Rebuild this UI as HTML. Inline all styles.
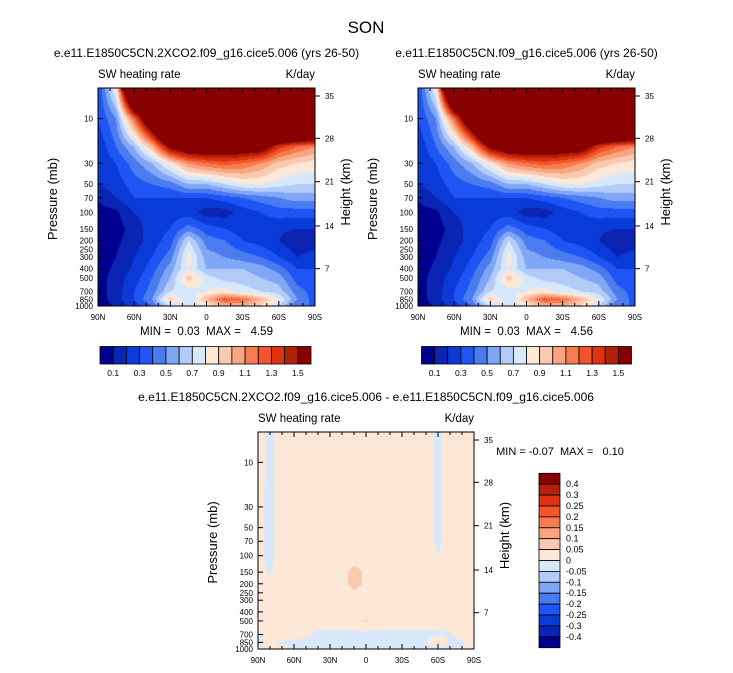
<!DOCTYPE html>
<html><head><meta charset="utf-8">
<style>
body{margin:0;background:#fff;}
#wrap{position:relative;width:733px;height:673px;overflow:hidden;font-family:"Liberation Sans",sans-serif;}
svg{position:absolute;left:0;top:0;}
svg text{white-space:pre;}
canvas{position:absolute;}
</style></head>
<body>
<div id="wrap">
<canvas id="c1" width="217" height="218" style="left:98px;top:88px"></canvas>
<canvas id="c2" width="217" height="218" style="left:418px;top:88px"></canvas>
<canvas id="c3" width="216" height="217" style="left:258px;top:432px"></canvas>
<svg id="s" width="733" height="673"></svg>
</div>
<script>
const levels = [0.1,0.2,0.3,0.4,0.5,0.6,0.7,0.8,0.9,1.0,1.1,1.2,1.3,1.4,1.5];
const levelLabels = ["0.1","0.3","0.5","0.7","0.9","1.1","1.3","1.5"];
const colors = ["#000090","#0a24b4","#0a3ad8","#1f55f5","#4a7cf0","#80a6f6","#b2cbf9","#d7e8fb","#fde8d8","#fbc8b0","#f9a680","#f67c50","#f2542c","#de3210","#b42008","#880000"];
const diffLevels = [-0.4,-0.3,-0.25,-0.2,-0.15,-0.1,-0.05,0,0.05,0.1,0.15,0.2,0.25,0.3,0.4];
const diffLabels = ["-0.4","-0.3","-0.25","-0.2","-0.15","-0.1","-0.05","0","0.05","0.1","0.15","0.2","0.25","0.3","0.4"];
const pressures = [4,10,20,30,50,70,100,150,200,300,400,500,700,850,1000];
const lats = [90,75,60,45,30,15,0,-15,-30,-45,-60,-75,-90];
const heat = [
[0.3,0.9,3,3,3,3,3,3,3,3,3,3,3],
[0.3,0.5,1.2,2,3,3,3,3,3,3,3,3,3],
[0.22,0.4,0.6,1.0,1.6,1.8,1.8,1.75,1.75,1.7,1.35,1.2,1.1],
[0.2,0.3,0.45,0.6,0.85,1.1,1.2,1.25,1.2,1.1,0.95,0.9,0.85],
[0.2,0.25,0.35,0.4,0.45,0.6,0.6,0.7,0.8,0.8,0.75,0.7,0.7],
[0.12,0.2,0.3,0.3,0.3,0.3,0.3,0.35,0.4,0.45,0.5,0.55,0.55],
[0.05,0.08,0.2,0.25,0.25,0.25,0.15,0.15,0.25,0.3,0.35,0.35,0.35],
[0.05,0.05,0.15,0.25,0.3,0.45,0.35,0.3,0.25,0.25,0.22,0.2,0.2],
[0.05,0.08,0.15,0.25,0.35,0.7,0.45,0.4,0.3,0.25,0.2,0.12,0.15],
[0.05,0.1,0.2,0.3,0.45,0.85,0.55,0.5,0.45,0.4,0.3,0.2,0.25],
[0.05,0.12,0.22,0.35,0.55,0.8,0.6,0.6,0.6,0.55,0.45,0.3,0.3],
[0.05,0.15,0.25,0.4,0.6,0.95,0.75,0.65,0.65,0.6,0.55,0.35,0.3],
[0.05,0.15,0.3,0.45,0.7,0.75,0.8,0.85,0.75,0.7,0.65,0.45,0.35],
[0.05,0.15,0.3,0.5,0.95,0.7,1.0,1.25,1.2,1.0,0.8,0.5,0.35],
[0.05,0.12,0.25,0.4,0.7,0.7,0.8,1.0,1.0,0.9,0.7,0.4,0.4]
];
const diffLats = [90,80,70,60,50,40,30,20,10,0,-10,-20,-30,-40,-50,-60,-70,-80,-90];
const diff = [
[0.02,-0.01,0.02,0.02,0.02,0.02,0.02,0.02,0.02,0.02,0.02,0.02,0.02,0.02,0.02,-0.01,0.02,0.02,0.02],
[0.02,-0.01,0.02,0.02,0.02,0.02,0.02,0.02,0.02,0.02,0.02,0.02,0.02,0.02,0.02,-0.01,0.02,0.02,0.02],
[0.01,-0.01,0.02,0.02,0.02,0.02,0.02,0.02,0.02,0.02,0.02,0.02,0.02,0.02,0.02,-0.01,0.02,0.02,0.01],
[0.01,-0.01,0.02,0.02,0.02,0.02,0.02,0.02,0.02,0.02,0.02,0.02,0.02,0.02,0.02,-0.01,0.02,0.02,0.02],
[0.01,-0.01,0.02,0.02,0.02,0.02,0.02,0.02,0.02,0.02,0.02,0.02,0.02,0.02,0.02,-0.01,0.02,0.02,0.02],
[0.01,-0.01,0.02,0.02,0.02,0.02,0.02,0.02,0.02,0.02,0.02,0.02,0.02,0.02,0.02,-0.01,0.02,0.02,0.02],
[0.01,-0.01,0.02,0.02,0.02,0.02,0.02,0.02,0.02,0.02,0.02,0.02,0.02,0.02,0.02,0.0,0.02,0.02,0.02],
[0.01,-0.005,0.02,0.02,0.02,0.02,0.02,0.03,0.07,0.04,0.02,0.02,0.02,0.02,0.02,0.02,0.02,0.02,0.02],
[0.02,0.02,0.02,0.02,0.02,0.02,0.02,0.03,0.07,0.04,0.02,0.02,0.02,0.02,0.02,0.02,0.02,0.02,0.02],
[0.02,0.02,0.02,0.02,0.02,0.02,0.02,0.02,0.02,0.02,0.02,0.02,0.02,0.02,0.02,0.02,0.02,0.02,0.02],
[0.02,0.02,0.02,0.02,0.02,0.02,0.02,0.02,0.02,0.02,0.02,0.02,0.02,0.02,0.02,0.02,0.02,0.02,0.02],
[0.02,0.02,0.02,0.02,0.02,0.02,0.02,0.02,0.02,0.055,0.02,0.02,0.02,0.02,0.02,0.02,0.02,0.02,0.02],
[-0.01,0.02,0.02,0.02,0.01,-0.01,-0.01,-0.01,-0.01,-0.015,-0.01,-0.01,-0.01,-0.01,-0.01,-0.01,-0.005,0.02,0.02],
[-0.01,0.01,-0.01,-0.01,-0.01,-0.01,-0.01,-0.01,-0.01,-0.01,-0.01,-0.01,-0.01,-0.01,-0.01,0.06,-0.01,-0.01,0.02],
[0.02,0.02,0.02,-0.01,-0.01,-0.01,-0.01,-0.01,-0.01,-0.01,-0.01,-0.01,-0.04,-0.06,-0.01,-0.02,-0.01,0.01,0.02]
];
const pTicks = [10,30,50,70,100,150,200,250,300,400,500,700,850,1000];
const hTicks = [35,28,21,14,7];
const xTicks = ["90N","60N","30N","0","30S","60S","90S"];

function colorIdx(v, lv){let i=0;while(i<lv.length&&v>=lv[i])i++;return i;}
function sample(grid, latArr, lat, lp){
  const lps = pressures.map(p=>Math.log10(p));
  let r=0; while(r<lps.length-2 && lp>lps[r+1]) r++;
  let tr=(lp-lps[r])/(lps[r+1]-lps[r]); tr=Math.max(0,Math.min(1,tr));
  let c=0; while(c<latArr.length-2 && lat<latArr[c+1]) c++;
  let tc=(latArr[c]-lat)/(latArr[c]-latArr[c+1]); tc=Math.max(0,Math.min(1,tc));
  const a=grid[r][c],b=grid[r][c+1],d=grid[r+1][c],e=grid[r+1][c+1];
  return (a*(1-tc)+b*tc)*(1-tr)+(d*(1-tc)+e*tc)*tr;
}
function drawField(id, grid, latArr, lv, w, h, kpx){
  const cv=document.getElementById(id), ctx=cv.getContext('2d');
  const img=ctx.createImageData(w,h);
  const rgb=colors.map(c=>[parseInt(c.substr(1,2),16),parseInt(c.substr(3,2),16),parseInt(c.substr(5,2),16)]);
  for(let y=0;y<h;y++){
    const lp = 3 - (h-0.5-y)/kpx;
    for(let x=0;x<w;x++){
      const lat = 90 - (x+0.5)/w*180;
      const v = sample(grid, latArr, lat, lp);
      const col = rgb[colorIdx(v,lv)];
      const o=(y*w+x)*4; img.data[o]=col[0];img.data[o+1]=col[1];img.data[o+2]=col[2];img.data[o+3]=255;
    }
  }
  ctx.putImageData(img,0,0);
}
drawField('c1', heat, lats, levels, 217, 218, 93.7);
drawField('c2', heat, lats, levels, 217, 218, 93.7);
drawField('c3', diff, diffLats, diffLevels, 216, 217, 93.3);

const S=document.getElementById('s'), NS='http://www.w3.org/2000/svg';
function el(tag, attrs, txt){const e=document.createElementNS(NS,tag);for(const k in attrs)e.setAttribute(k,attrs[k]);if(txt!==undefined)e.textContent=txt;S.appendChild(e);return e;}

function panel(x0,y0,w,h,k,title,minmax,pfx){
  const yP=p=>y0+h-(3-Math.log10(p))*k;
  const hOff=[8,50.3,93.7,138,180.7];
  let e;
  e=el('rect',{x:x0,y:y0,width:w,height:h,fill:'none',stroke:'#000','stroke-width':1});
  
  e=el('text',{x:x0+w/2,y:y0-31,'font-size':12,'text-anchor':'middle'},title);
  
  e=el('text',{x:x0,y:y0-10,'font-size':11.5},'SW heating rate');
  
  e=el('text',{x:x0+w,y:y0-10,'font-size':11.5,'text-anchor':'end'},'K/day');
  
  pTicks.forEach(p=>{const y=yP(p);
    el('line',{x1:x0,x2:x0+5,y1:y,y2:y,stroke:'#000'});
    e=el('text',{x:x0-5,y:y+3,'font-size':8,'text-anchor':'end'},String(p));
    });
  hTicks.forEach((t,i)=>{const y=y0+hOff[i];
    el('line',{x1:x0+w,x2:x0+w+5,y1:y,y2:y,stroke:'#000'});
    e=el('text',{x:x0+w+10,y:y+3,'font-size':8},String(t));
    });
  for(let i=0;i<=18;i++){const x=x0+w*i/18;const L=i%3==0?5:3;
    el('line',{x1:x,x2:x,y1:y0+h,y2:y0+h-L,stroke:'#000'});
    el('line',{x1:x,x2:x,y1:y0,y2:y0+L,stroke:'#000'});}
  xTicks.forEach((t,i)=>{e=el('text',{x:x0+w*i/6,y:y0+h+14,'font-size':8,'text-anchor':'middle'},t);
    });
  e=el('text',{x:0,y:0,'font-size':13,'text-anchor':'middle',transform:`translate(${x0-41},${y0+h/2+2}) rotate(-90)`},'Pressure (mb)');
  
  e=el('text',{x:0,y:0,'font-size':13,'text-anchor':'middle',transform:`translate(${x0+w+35},${y0+h/2-5}) rotate(-90)`},'Height (km)');
  
  if(minmax){e=el('text',{x:x0+w/2,y:y0+h+29,'font-size':11.5,'text-anchor':'middle'},minmax);
    }
}
let t=el('text',{x:366,y:33,'font-size':17,'text-anchor':'middle'},'SON');

panel(98,88,217,218,93.7,'e.e11.E1850C5CN.2XCO2.f09_g16.cice5.006 (yrs 26-50)','MIN =  0.03  MAX =   4.59','left');
panel(418,88,217,218,93.7,'e.e11.E1850C5CN.f09_g16.cice5.006 (yrs 26-50)','MIN =  0.03  MAX =   4.56','right');
panel(258,432,216,217,93.3,'e.e11.E1850C5CN.2XCO2.f09_g16.cice5.006 - e.e11.E1850C5CN.f09_g16.cice5.006',null,'diff');
t=el('text',{x:560,y:455,'font-size':11,'text-anchor':'middle'},'MIN = -0.07  MAX =   0.10');


function hbar(x0,y0,w,h,pfx){
  const bw=w/colors.length;
  colors.forEach((c,i)=>{const r=el('rect',{x:x0+i*bw,y:y0,width:bw,height:h,fill:c,stroke:'#000','stroke-width':0.8});
    });
  levelLabels.forEach((l,i)=>{const e=el('text',{x:x0+bw*(1+2*i),y:y0+h+12,'font-size':8.5,'text-anchor':'middle'},l);
    });
}
hbar(100,346.5,211,17.5,'left');
hbar(421.5,346.5,210,17.5,'right');
(function(){
  const x0=539,y0=473.3,w=21,h=174.4,bh=h/colors.length;
  for(let i=0;i<colors.length;i++){
    const r=el('rect',{x:x0,y:y0+i*bh,width:w,height:bh,fill:colors[colors.length-1-i],stroke:'#000','stroke-width':0.8});
    }
  for(let j=0;j<diffLabels.length;j++){
    const e=el('text',{x:566,y:y0+(j+1)*bh+3,'font-size':9},diffLabels[diffLabels.length-1-j]);
    }
})();
</script>
</body></html>
